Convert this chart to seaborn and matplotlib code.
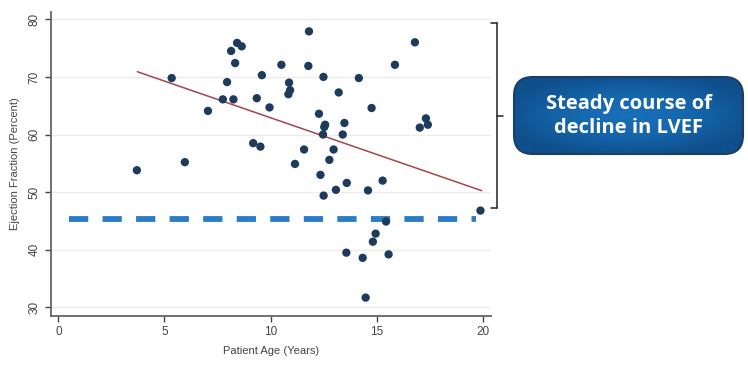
import numpy as np
import pandas as pd
import matplotlib
matplotlib.use("Agg")
import matplotlib.pyplot as plt
import seaborn as sns
from matplotlib.patches import FancyBboxPatch
from matplotlib.lines import Line2D
from matplotlib.colors import LinearSegmentedColormap

# ---- data ----
age = [3.70, 5.34, 5.96, 7.05, 7.75, 8.25, 7.95, 8.33, 8.14, 8.42, 8.64,
       11.81, 16.80, 10.51, 11.78, 15.86, 9.59, 10.87, 12.49, 14.16, 10.92,
       10.84, 13.21, 9.35, 9.95, 14.76, 12.28, 12.57, 12.53, 13.48, 12.47,
       13.40, 17.32, 17.41, 17.03, 9.18, 9.52, 11.58, 12.97, 12.77, 11.15,
       12.35, 13.59, 13.08, 12.50, 14.59, 15.28, 19.89, 15.44, 14.95, 14.82,
       13.57, 14.34, 15.56, 14.48]
lvef = [53.8, 69.8, 55.2, 64.1, 66.1, 66.1, 69.1, 72.4, 74.5, 75.9, 75.3,
        77.9, 76.0, 72.1, 71.9, 72.1, 70.3, 69.0, 70.0, 69.8, 67.7,
        67.0, 67.3, 66.3, 64.7, 64.6, 63.6, 61.7, 61.3, 62.0, 60.0,
        60.0, 62.8, 61.7, 61.2, 58.5, 57.9, 57.4, 57.4, 55.6, 54.9,
        53.0, 51.6, 50.4, 49.4, 50.3, 52.0, 46.8, 44.9, 42.8, 41.4,
        39.5, 38.6, 39.2, 31.7]
fit_age = [3.72, 19.95]
fit_lvef = [70.9, 50.25]
threshold_age = [0.5, 19.7]
threshold_lvef = [45.3, 45.3]
xticks = [0, 5, 10, 15, 20]
yticks = [30, 40, 50, 60, 70, 80]
x_label = "Patient Age (Years)"
y_label = "Ejection Fraction (Percent)"
callout = "Steady course of\ndecline in LVEF"

df = pd.DataFrame({"age": age, "lvef": lvef})
fit_df = pd.DataFrame({"age": fit_age, "lvef": fit_lvef})
thr_df = pd.DataFrame({"age": threshold_age, "lvef": threshold_lvef})

sns.set_style("white")
plt.rcParams["font.family"] = ["Liberation Sans", "DejaVu Sans"]

fig = plt.figure(figsize=(7.48, 3.68), dpi=100)
ax = fig.add_axes([0.0678, 0.142, 0.589, 0.826])

for yv in yticks:
    ax.axhline(yv, color="#ececec", lw=1.0, zorder=0)

sns.lineplot(data=thr_df, x="age", y="lvef", ax=ax, color="#2a7cc7",
             lw=4.2, dashes=False, zorder=2)
ax.lines[-1].set_dashes([3.3, 2.45])
ax.lines[-1].set_dash_capstyle("butt")

sns.lineplot(data=fit_df, x="age", y="lvef", ax=ax, color="#a5454d",
             lw=1.1, zorder=3)
sns.scatterplot(data=df, x="age", y="lvef", ax=ax, color="#1e3a5c",
                s=36, edgecolor="none", zorder=4)

ax.set_xlim(-0.36, 20.4)
ax.set_ylim(28.55, 81.3)
ax.set_xticks(xticks)
ax.set_yticks(yticks)
ax.set_xlabel(x_label, fontsize=8, color="#444444", labelpad=6)
ax.set_ylabel(y_label, fontsize=8, color="#444444", labelpad=6)
ax.tick_params(axis="both", labelsize=8.5, colors="#444444", length=4,
               width=1, direction="out", left=True, bottom=True)
for lab in ax.get_yticklabels():
    lab.set_rotation(90)
    lab.set_va("center")
for s in ["top", "right"]:
    ax.spines[s].set_visible(False)
for s in ["left", "bottom"]:
    ax.spines[s].set_color("#666666")
    ax.spines[s].set_linewidth(1.3)

# bracket (figure pixel coordinates)
W, H = 748, 368
def fx(px):
    return px / W
def fy(py):
    return 1 - py / H
bx = 497
for (xs, ys) in [([bx, bx], [23, 208]), ([491, bx], [23, 23]),
                 ([491, bx], [208, 208]), ([bx, 503], [116, 116])]:
    fig.add_artist(Line2D([fx(v) for v in xs], [fy(v) for v in ys],
                          color="#222222", lw=1.1))

# callout box with a soft radial gradient
x0, y0, x1, y1 = 514, 77, 743, 154
gax = fig.add_axes([fx(x0) - 0.002, fy(y1) - 0.004,
                    fx(x1 - x0) + 0.004, (y1 - y0) / H + 0.008])
gax.set_axis_off()
gx, gy = np.meshgrid(np.linspace(-1, 1, 200), np.linspace(-1, 1, 80))
rr = np.clip(np.sqrt(gx ** 2 * 0.8 + gy ** 2 * 0.9), 0, 1)
cmap = LinearSegmentedColormap.from_list("box", ["#1a70bb", "#1565ab", "#0f4f8c"])
im = gax.imshow(rr, cmap=cmap, aspect="auto", extent=[0, 1, 0, 1],
                vmin=0, vmax=1)
gax.set_xlim(0, 1)
gax.set_ylim(0, 1)
box = FancyBboxPatch((fx(x0), fy(y1)), fx(x1 - x0), (y1 - y0) / H,
                     boxstyle="round,pad=0,rounding_size=0.025",
                     transform=fig.transFigure, facecolor="none",
                     edgecolor="#1d3f66", lw=1.5, mutation_aspect=W / H)
fig.add_artist(box)
im.set_clip_path(box)
fig.text(fx(629), fy(116), callout, ha="center", va="center",
         color="white", fontsize=14.5, fontweight="bold",
         family=["Open Sans", "DejaVu Sans"], linespacing=1.25)

fig.savefig("out.png", dpi=100)
